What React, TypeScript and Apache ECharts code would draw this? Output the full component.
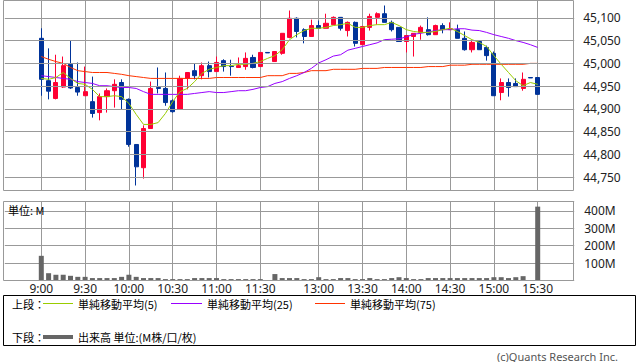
import React, { useEffect, useRef } from 'react';
import * as echarts from 'echarts';

const times = [
  '9:00', '9:05', '9:10', '9:15', '9:20', '9:25', '9:30', '9:35', '9:40', '9:45', '9:50', '9:55',
  '10:00', '10:05', '10:10', '10:15', '10:20', '10:25', '10:30', '10:35', '10:40', '10:45', '10:50', '10:55',
  '11:00', '11:05', '11:10', '11:15', '11:20', '11:25', '11:30',
  '12:25', '12:30', '12:35', '12:40', '12:45', '12:50', '12:55',
  '13:00', '13:05', '13:10', '13:15', '13:20', '13:25', '13:30', '13:35', '13:40', '13:45', '13:50', '13:55',
  '14:00', '14:05', '14:10', '14:15', '14:20', '14:25', '14:30', '14:35', '14:40', '14:45', '14:50', '14:55',
  '15:00', '15:05', '15:10', '15:15', '15:20', '15:25', '15:30',
];

const tickLabels = ['9:00', '9:30', '10:00', '10:30', '11:00', '11:30', '13:00', '13:30', '14:00', '14:30', '15:00', '15:30'];
const priceTicks = [44750, 44800, 44850, 44900, 44950, 45000, 45050, 45100];

const openP = [
  45055, 44962, 44923, 44948, 44998, 44947, 44929, 44916, 44892, 44927, 44940, 44958,
  44921, 44822, 44771, 44857, 44947, 44945, 44918, 44899, 44967, 44984, 44973, 44995,
  44982, 45006, 44994, 44991, 44993, 45013, 44993,
  45024, 45004, 45022, 45057, 45099, 45074, 45059,
  45083, 45077, 45085, 45101, 45072, 45090, 45041, 45079, 45101, 45109, 45090, 45079,
  45048, 45059, 45068, 45074, 45063, 45083, 45074, 45074, 45055, 45030, 45048, 45035,
  45022, 44936, 44958, 44956, 44945, 44969, 44969,
];
const closeP = [
  44965, 44939, 44958, 44995, 44946, 44937, 44938, 44890, 44927, 44940, 44954, 44921,
  44822, 44773, 44857, 44945, 44945, 44914, 44894, 44967, 44980, 44973, 44995, 44982,
  45002, 44993, 44993, 44995, 45011, 44991, 45024,
  45023, 45026, 45066, 45099, 45070, 45059, 45083,
  45077, 45088, 45101, 45077, 45090, 45044, 45081, 45103, 45109, 45090, 45074, 45048,
  45061, 45066, 45079, 45063, 45083, 45074, 45076, 45055, 45030, 45046, 45030, 45017,
  44929, 44958, 44947, 44949, 44965, 44968, 44932,
];
const lowP = [
  44929, 44921, 44921, 44946, 44944, 44929, 44929, 44881, 44875, 44892, 44903, 44899,
  44817, 44732, 44747, 44857, 44934, 44907, 44892, 44899, 44943, 44965, 44965, 44969,
  44982, 44982, 44973, 44991, 44986, 44989, 44993,
  45023, 45004, 45019, 45055, 45057, 45044, 45059,
  45077, 45077, 45085, 45072, 45059, 45037, 45041, 45072, 45085, 45090, 45070, 45048,
  45024, 45015, 45052, 45061, 45063, 45066, 45074, 45055, 45028, 45024, 45030, 45006,
  44929, 44919, 44927, 44949, 44940, 44968, 44932,
];
const highP = [
  45077, 45033, 45019, 45015, 45050, 45002, 44993, 44971, 44934, 44945, 44965, 44965,
  44923, 44822, 44864, 44960, 44991, 44980, 44921, 44973, 44980, 45000, 45002, 45004,
  45015, 45009, 45008, 45013, 45024, 45019, 45024,
  45024, 45026, 45066, 45116, 45101, 45077, 45096,
  45094, 45109, 45103, 45101, 45092, 45092, 45081, 45109, 45112, 45127, 45094, 45079,
  45061, 45066, 45083, 45101, 45085, 45088, 45090, 45085, 45070, 45050, 45050, 45039,
  45026, 44967, 44967, 44967, 44980, 44969, 44969,
];

const ma5 = [
  44967, 44965, 44969, 44980, 44967, 44956, 44954, 44943, 44927, 44927, 44929, 44927,
  44912, 44888, 44866, 44866, 44870, 44890, 44916, 44938, 44945, 44960, 44978, 44987,
  44991, 44995, 44995, 44998, 44998, 45000, 45004,
  45011, 45017, 45030, 45052, 45063, 45072, 45077,
  45077, 45079, 45083, 45085, 45088, 45079, 45079, 45083, 45085, 45085, 45090, 45083,
  45074, 45070, 45068, 45068, 45070, 45074, 45077, 45070, 45061, 45052, 45046, 45037,
  45017, 44998, 44980, 44962, 44951, 44958, 44954,
];
const ma25 = [
  44973, 44971, 44969, 44967, 44965, 44960, 44958, 44956, 44951, 44951, 44949, 44947,
  44947, 44945, 44938, 44932, 44932, 44932, 44932, 44932, 44932, 44934, 44936, 44938,
  44936, 44936, 44938, 44940, 44940, 44943, 44947,
  44949, 44956, 44960, 44967, 44973, 44980, 44989,
  45001, 45008, 45016, 45019, 45029, 45033, 45037, 45041, 45045, 45052, 45053, 45054,
  45058, 45064, 45066, 45069, 45072, 45074, 45074, 45076, 45076, 45073, 45072, 45068,
  45063, 45059, 45055, 45050, 45046, 45041, 45035,
];
const ma75 = [
  45015, 45009, 45004, 45000, 44991, 44984, 44982, 44980, 44980, 44980, 44978, 44976,
  44973, 44971, 44969, 44967, 44967, 44967, 44967, 44967, 44967, 44967, 44967, 44967,
  44969, 44969, 44969, 44969, 44969, 44969, 44969,
  44973, 44973, 44973, 44978, 44978, 44980, 44984,
  44984, 44984, 44987, 44987, 44987, 44987, 44989, 44989, 44989, 44991, 44991, 44991,
  44991, 44991, 44991, 44993, 44993, 44993, 44996, 44996, 44996, 44998, 44998, 44998,
  44998, 44998, 44998, 44998, 44998, 45000, 45000,
];
const volume = [
  142, 42, 33, 33, 27, 21, 21, 14, 14, 14, 14, 21,
  33, 21, 14, 14, 14, 8, 8, 8, 8, 14, 14, 14,
  14, 8, 8, 8, 8, 8, 8,
  1, 37, 14, 14, 14, 8, 8,
  19, 8, 8, 14, 14, 8, 8, 14, 8, 8, 14, 19,
  14, 8, 8, 14, 14, 14, 14, 14, 14, 14, 14, 14,
  19, 19, 14, 19, 25, 2, 425,
];

const PAD = 5;
const RED = '#FF0033';
const BLUE = '#003399';
const GRID = '#999999';
const LABEL = '#222222';
const JP = '"Noto Sans CJK JP", sans-serif';

export default function App() {
  const ref = useRef<HTMLDivElement>(null);

  useEffect(() => {
    if (!ref.current) return;
    const chart = echarts.init(ref.current, null, { renderer: 'svg' });

    const pre = Array.from({ length: PAD }, (_, i) => `pre${i}`);
    const post = Array.from({ length: PAD }, (_, i) => `post${i}`);
    const cats = [...pre, ...times, ...post];
    const pad = (arr: any[], empty: any) => [
      ...Array.from({ length: PAD }, () => empty),
      ...arr,
      ...Array.from({ length: PAD }, () => empty),
    ];
    const candles = pad(
      times.map((_, i) => [openP[i], closeP[i], lowP[i], highP[i]]),
      ['-', '-', '-', '-']
    );
    const isTick = (_idx: number, value: string) => tickLabels.includes(value);

    const gridLeft = 4.8;
    const gridWidth = 569.4;

    const legendY1 = 303.5;
    const legendY2 = 337;

    chart.setOption({
      animation: false,
      backgroundColor: '#ffffff',
      grid: [
        { left: gridLeft, top: 0.5, width: gridWidth, height: 190, show: false, containLabel: false, outerBoundsMode: 'none' },
        { left: gridLeft, top: 201, width: gridWidth, height: 79.5, show: false, containLabel: false, outerBoundsMode: 'none' },
      ],
      xAxis: [
        {
          type: 'category', gridIndex: 0, data: cats, boundaryGap: false,
          axisLine: { show: false }, axisTick: { show: false }, axisLabel: { show: false },
          splitLine: { show: true, interval: isTick, lineStyle: { color: GRID, width: 1 } },
        },
        {
          type: 'category', gridIndex: 1, data: cats, boundaryGap: false,
          axisLine: { show: false }, axisTick: { show: false },
          axisLabel: { show: true, interval: isTick, color: LABEL, fontSize: 12, fontFamily: 'Noto Sans', margin: 2 },
          splitLine: { show: true, interval: isTick, lineStyle: { color: GRID, width: 1 } },
        },
      ],
      yAxis: [
        {
          type: 'value', gridIndex: 0, min: 44721, max: 45138, position: 'right', scale: true,
          axisLine: { show: false }, axisTick: { show: false }, axisLabel: { show: false },
          splitLine: { show: false },
        },
        {
          type: 'value', gridIndex: 1, min: 0, max: 457.5, interval: 100, position: 'right',
          axisLine: { show: false }, axisTick: { show: false },
          axisLabel: {
            show: true, showMinLabel: false, showMaxLabel: false, margin: 10,
            color: LABEL, fontSize: 12, fontFamily: 'Noto Sans',
            formatter: (v: number) => `${v}M`,
          },
          splitLine: { show: true, lineStyle: { color: GRID, width: 1 } },
        },
      ],
      series: [
        {
          type: 'line', xAxisIndex: 0, yAxisIndex: 0, data: [], z: 1, silent: true,
          markLine: {
            silent: true, symbol: ['none', 'none'], animation: false,
            lineStyle: { color: GRID, width: 1, type: 'solid' },
            emphasis: { disabled: true },
            label: {
              show: true, position: 'end', distance: 9,
              color: LABEL, fontSize: 12, fontFamily: 'Noto Sans',
              formatter: (p: any) => Number(p.value).toLocaleString('en-US'),
            },
            data: priceTicks.map((v) => ({ yAxis: v })),
          },
        },
        {
          type: 'candlestick', xAxisIndex: 0, yAxisIndex: 0, data: candles, barWidth: 4.6, z: 2,
          itemStyle: {
            color: RED, color0: BLUE, borderColor: RED, borderColor0: BLUE,
            borderColorDoji: BLUE, borderWidth: 1,
          },
        },
        {
          type: 'line', xAxisIndex: 0, yAxisIndex: 0, data: pad(ma75, '-'), z: 3, symbol: 'none',
          lineStyle: { color: '#FF3300', width: 1 },
        },
        {
          type: 'line', xAxisIndex: 0, yAxisIndex: 0, data: pad(ma25, '-'), z: 3, symbol: 'none',
          lineStyle: { color: '#9900FF', width: 1 },
        },
        {
          type: 'line', xAxisIndex: 0, yAxisIndex: 0, data: pad(ma5, '-'), z: 3, symbol: 'none',
          lineStyle: { color: '#99CC00', width: 1 },
        },
        {
          type: 'bar', xAxisIndex: 1, yAxisIndex: 1, data: pad(volume, '-'), barWidth: 5,
          itemStyle: { color: '#666666' },
        },
      ],
      graphic: [
        { type: 'rect', silent: true, z: 10, shape: { x: 3.5, y: 0.5, width: 570, height: 190 }, style: { fill: 'none', stroke: GRID, lineWidth: 1 } },
        { type: 'rect', silent: true, z: 10, shape: { x: 3.5, y: 201.5, width: 570, height: 79 }, style: { fill: 'none', stroke: GRID, lineWidth: 1 } },
        { type: 'text', silent: true, z: 10, x: 8, y: 209.5, style: { text: '単位: M', font: `11px ${JP}`, fill: '#000', verticalAlign: 'middle' } },
        { type: 'rect', silent: true, z: 10, shape: { x: 3.5, y: 295.5, width: 632, height: 50 }, style: { fill: 'none', stroke: '#000', lineWidth: 1 } },
        { type: 'text', silent: true, z: 10, x: 12, y: legendY1, style: { text: '上段：', font: `11px ${JP}`, fill: '#000', verticalAlign: 'middle' } },
        { type: 'line', silent: true, z: 10, shape: { x1: 43, y1: legendY1, x2: 73, y2: legendY1 }, style: { stroke: '#99CC00', lineWidth: 1 } },
        { type: 'text', silent: true, z: 10, x: 78, y: legendY1, style: { text: '単純移動平均(5)', font: `11px ${JP}`, fill: '#000', verticalAlign: 'middle' } },
        { type: 'line', silent: true, z: 10, shape: { x1: 171, y1: legendY1, x2: 202, y2: legendY1 }, style: { stroke: '#9900FF', lineWidth: 1 } },
        { type: 'text', silent: true, z: 10, x: 207, y: legendY1, style: { text: '単純移動平均(25)', font: `11px ${JP}`, fill: '#000', verticalAlign: 'middle' } },
        { type: 'line', silent: true, z: 10, shape: { x1: 315, y1: legendY1, x2: 345, y2: legendY1 }, style: { stroke: '#FF3300', lineWidth: 1 } },
        { type: 'text', silent: true, z: 10, x: 350, y: legendY1, style: { text: '単純移動平均(75)', font: `11px ${JP}`, fill: '#000', verticalAlign: 'middle' } },
        { type: 'text', silent: true, z: 10, x: 12, y: legendY2, style: { text: '下段：', font: `11px ${JP}`, fill: '#000', verticalAlign: 'middle' } },
        { type: 'line', silent: true, z: 10, shape: { x1: 43, y1: legendY2, x2: 73, y2: legendY2 }, style: { stroke: '#666666', lineWidth: 4 } },
        { type: 'text', silent: true, z: 10, x: 78, y: legendY2, style: { text: '出来高 単位:(M株/口/枚)', font: `11px ${JP}`, fill: '#000', verticalAlign: 'middle' } },
        { type: 'text', silent: true, z: 10, x: 618, y: 356, style: { text: '(c)Quants Research Inc.', font: '11px "Noto Sans", sans-serif', fill: '#555', align: 'right', verticalAlign: 'middle' } },
      ],
    });

    return () => chart.dispose();
  }, []);

  return (
    <div
      ref={ref}
      style={{ position: 'fixed', left: 0, top: 0, width: 638, height: 362, background: '#fff' }}
    />
  );
}
